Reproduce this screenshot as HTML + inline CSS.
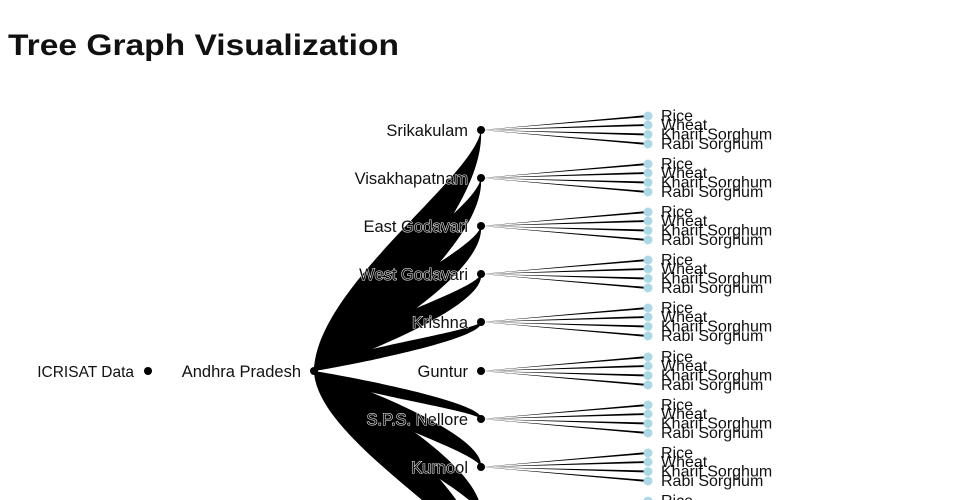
<!DOCTYPE html>
<html><head><meta charset="utf-8"><style>
html,body{margin:0;padding:0;background:#fff;width:960px;height:500px;overflow:hidden}
svg{display:block}
text{font-family:"Liberation Sans",sans-serif;font-size:16.5px;fill:#111}
.h{paint-order:stroke;stroke:#fff;stroke-width:1px}
.r polygon{fill:#000}
.r text{font-size:16px}
</style></head><body>
<svg width="960" height="500" viewBox="0 0 960 500">
<text x="8" y="55" style="font-size:30px;font-weight:bold" textLength="391" lengthAdjust="spacingAndGlyphs">Tree Graph Visualization</text>
<g fill="#000">
<path d="M314,371 C316,286.6 474,178.2 481,130 C486,214.4 345,346.9 314,371Z"/>
<path d="M314,371 C316,303.5 474,216.6 481,178 C486,245.6 345,351.7 314,371Z"/>
<path d="M314,371 C316,320.3 474,255 481,226 C486,276.8 345,356.5 314,371Z"/>
<path d="M314,371 C316,337.1 474,293.4 481,274 C486,308 345,361.3 314,371Z"/>
<path d="M314,371 C316,353.9 474,331.8 481,322 C486,339.2 345,366.1 314,371Z"/>
<path d="M314,371 C316,387.8 474,409.4 481,419 C486,402.2 345,375.8 314,371Z"/>
<path d="M314,371 C316,404.6 474,447.8 481,467 C486,433.4 345,380.6 314,371Z"/>
<path d="M314,371 C316,421.4 474,486.2 481,515 C486,464.6 345,385.4 314,371Z"/>
<path d="M314,371 C316,438.2 474,524.6 481,563 C486,495.8 345,390.2 314,371Z"/>
</g>
<g>
<g class="r" transform="translate(0,130)"><polygon points="481,0 648,-15 648,-13"/><polygon points="481,0 648,-6 648,-4"/><polygon points="481,0 648,3.5 648,5.5"/><polygon points="481,0 648,13 648,15"/><g fill="#add8e6"><circle cx="648" cy="-14" r="4.5"/><circle cx="648" cy="-5" r="4.5"/><circle cx="648" cy="4.5" r="4.5"/><circle cx="648" cy="14" r="4.5"/></g><text x="661" y="-9">Rice</text><text x="661" y="0">Wheat</text><text x="661" y="9.5">Kharif Sorghum</text><text x="661" y="19">Rabi Sorghum</text></g>
<g class="r" transform="translate(0,178)"><polygon points="481,0 648,-15 648,-13"/><polygon points="481,0 648,-6 648,-4"/><polygon points="481,0 648,3.5 648,5.5"/><polygon points="481,0 648,13 648,15"/><g fill="#add8e6"><circle cx="648" cy="-14" r="4.5"/><circle cx="648" cy="-5" r="4.5"/><circle cx="648" cy="4.5" r="4.5"/><circle cx="648" cy="14" r="4.5"/></g><text x="661" y="-9">Rice</text><text x="661" y="0">Wheat</text><text x="661" y="9.5">Kharif Sorghum</text><text x="661" y="19">Rabi Sorghum</text></g>
<g class="r" transform="translate(0,226)"><polygon points="481,0 648,-15 648,-13"/><polygon points="481,0 648,-6 648,-4"/><polygon points="481,0 648,3.5 648,5.5"/><polygon points="481,0 648,13 648,15"/><g fill="#add8e6"><circle cx="648" cy="-14" r="4.5"/><circle cx="648" cy="-5" r="4.5"/><circle cx="648" cy="4.5" r="4.5"/><circle cx="648" cy="14" r="4.5"/></g><text x="661" y="-9">Rice</text><text x="661" y="0">Wheat</text><text x="661" y="9.5">Kharif Sorghum</text><text x="661" y="19">Rabi Sorghum</text></g>
<g class="r" transform="translate(0,274)"><polygon points="481,0 648,-15 648,-13"/><polygon points="481,0 648,-6 648,-4"/><polygon points="481,0 648,3.5 648,5.5"/><polygon points="481,0 648,13 648,15"/><g fill="#add8e6"><circle cx="648" cy="-14" r="4.5"/><circle cx="648" cy="-5" r="4.5"/><circle cx="648" cy="4.5" r="4.5"/><circle cx="648" cy="14" r="4.5"/></g><text x="661" y="-9">Rice</text><text x="661" y="0">Wheat</text><text x="661" y="9.5">Kharif Sorghum</text><text x="661" y="19">Rabi Sorghum</text></g>
<g class="r" transform="translate(0,322)"><polygon points="481,0 648,-15 648,-13"/><polygon points="481,0 648,-6 648,-4"/><polygon points="481,0 648,3.5 648,5.5"/><polygon points="481,0 648,13 648,15"/><g fill="#add8e6"><circle cx="648" cy="-14" r="4.5"/><circle cx="648" cy="-5" r="4.5"/><circle cx="648" cy="4.5" r="4.5"/><circle cx="648" cy="14" r="4.5"/></g><text x="661" y="-9">Rice</text><text x="661" y="0">Wheat</text><text x="661" y="9.5">Kharif Sorghum</text><text x="661" y="19">Rabi Sorghum</text></g>
<g class="r" transform="translate(0,371)"><polygon points="481,0 648,-15 648,-13"/><polygon points="481,0 648,-6 648,-4"/><polygon points="481,0 648,3.5 648,5.5"/><polygon points="481,0 648,13 648,15"/><g fill="#add8e6"><circle cx="648" cy="-14" r="4.5"/><circle cx="648" cy="-5" r="4.5"/><circle cx="648" cy="4.5" r="4.5"/><circle cx="648" cy="14" r="4.5"/></g><text x="661" y="-9">Rice</text><text x="661" y="0">Wheat</text><text x="661" y="9.5">Kharif Sorghum</text><text x="661" y="19">Rabi Sorghum</text></g>
<g class="r" transform="translate(0,419)"><polygon points="481,0 648,-15 648,-13"/><polygon points="481,0 648,-6 648,-4"/><polygon points="481,0 648,3.5 648,5.5"/><polygon points="481,0 648,13 648,15"/><g fill="#add8e6"><circle cx="648" cy="-14" r="4.5"/><circle cx="648" cy="-5" r="4.5"/><circle cx="648" cy="4.5" r="4.5"/><circle cx="648" cy="14" r="4.5"/></g><text x="661" y="-9">Rice</text><text x="661" y="0">Wheat</text><text x="661" y="9.5">Kharif Sorghum</text><text x="661" y="19">Rabi Sorghum</text></g>
<g class="r" transform="translate(0,467)"><polygon points="481,0 648,-15 648,-13"/><polygon points="481,0 648,-6 648,-4"/><polygon points="481,0 648,3.5 648,5.5"/><polygon points="481,0 648,13 648,15"/><g fill="#add8e6"><circle cx="648" cy="-14" r="4.5"/><circle cx="648" cy="-5" r="4.5"/><circle cx="648" cy="4.5" r="4.5"/><circle cx="648" cy="14" r="4.5"/></g><text x="661" y="-9">Rice</text><text x="661" y="0">Wheat</text><text x="661" y="9.5">Kharif Sorghum</text><text x="661" y="19">Rabi Sorghum</text></g>
<g class="r" transform="translate(0,515)"><polygon points="481,0 648,-15 648,-13"/><g fill="#add8e6"><circle cx="648" cy="-14" r="4.5"/></g><text x="661" y="-9">Rice</text></g>
</g>
<g fill="#000">
<circle cx="148" cy="371" r="4"/><circle cx="314" cy="371" r="4"/>
<circle cx="481" cy="130" r="4"/><circle cx="481" cy="178" r="4"/><circle cx="481" cy="226" r="4"/><circle cx="481" cy="274" r="4"/><circle cx="481" cy="322" r="4"/><circle cx="481" cy="371" r="4"/><circle cx="481" cy="419" r="4"/><circle cx="481" cy="467" r="4"/>
</g>
<g text-anchor="end">
<text x="134" y="377" class="h" style="font-size:15.5px">ICRISAT Data</text>
<text x="301" y="377" class="h">Andhra Pradesh</text>
<text x="468" y="136" class="h">Srikakulam</text>
<text x="468" y="184" class="h">Visakhapatnam</text>
<text x="468" y="232" class="h">East Godavari</text>
<text x="468" y="280" class="h">West Godavari</text>
<text x="468" y="328" class="h">Krishna</text>
<text x="468" y="377" class="h">Guntur</text>
<text x="468" y="425" class="h">S.P.S. Nellore</text>
<text x="468" y="473" class="h">Kurnool</text>
</g>
</svg>
</body></html>
